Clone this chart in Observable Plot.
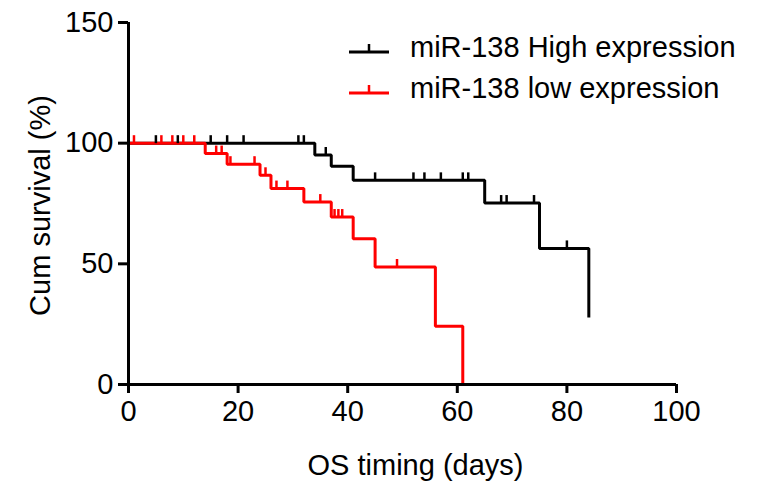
<!DOCTYPE html>
<html><head><meta charset="utf-8">
<script src="https://cdn.jsdelivr.net/npm/d3@7"></script>
<script src="https://cdn.jsdelivr.net/npm/@observablehq/plot@0.6"></script>
<style>
html,body{margin:0;padding:0;background:#fff;}
#wrap{position:relative;width:768px;height:497px;font-family:"Liberation Sans",Arial,Helvetica,sans-serif;}
#chart svg [aria-label$="tick"] path, #chart svg [aria-label$="tick"] line, #chart svg .tick line {stroke-width:3px;}
#legend{position:absolute;left:349px;top:27px;}
.row{display:flex;align-items:center;height:41px;font-size:29px;color:#000;line-height:41px;white-space:nowrap;}
.row svg{margin-right:21px;display:block;}
</style></head><body>
<div id="wrap"><div id="chart"></div><div id="legend"></div></div>
<script>
const seriesNames = ["miR-138 High expression", "miR-138 low expression"];
const seriesColors = ["#000000", "#ff0000"];
const highDays = [0, 34, 37, 41, 65, 75, 84];
const highSurv = [100, 95.1, 90.4, 84.6, 75.2, 56.4, 27.8];
const lowDays = [0, 14, 18, 24, 26, 32, 37, 41, 45, 56, 61];
const lowSurv = [100, 95.7, 91.3, 86.7, 81.2, 75.6, 69.4, 60.4, 48.7, 24.1, 0];
const highCensorDays = [5, 9, 15, 18, 21, 31, 32, 36, 45, 52, 54, 57, 61, 62, 68, 69, 74, 80];
const highCensorSurv = [100, 100, 100, 100, 100, 100, 100, 95.1, 84.6, 84.6, 84.6, 84.6, 84.6, 84.6, 75.2, 75.2, 75.2, 56.4];
const lowCensorDays = [1, 6, 8, 10, 12, 16, 17, 18.6, 23, 25, 27, 29, 35, 37.6, 38.3, 39, 49];
const lowCensorSurv = [100, 100, 100, 100, 100, 95.7, 95.7, 91.3, 91.3, 86.7, 81.2, 81.2, 75.6, 69.4, 69.4, 69.4, 48.7];
const xTicks = [0, 20, 40, 60, 80, 100];
const yTicks = [0, 50, 100, 150];
const xLabel = "OS timing (days)";
const yLabel = "Cum survival (%)";

const curves = [
  ...highDays.map((d, i) => ({group: seriesNames[0], day: d, surv: highSurv[i]})),
  ...lowDays.map((d, i) => ({group: seriesNames[1], day: d, surv: lowSurv[i]}))
];
const censors = [
  ...highCensorDays.map((d, i) => ({group: seriesNames[0], day: d, surv: highCensorSurv[i]})),
  ...lowCensorDays.map((d, i) => ({group: seriesNames[1], day: d, surv: lowCensorSurv[i]}))
];

const tickUp = {draw(ctx, size) { const h = Math.sqrt(size); ctx.moveTo(0, 0); ctx.lineTo(0, -h); }};

const chart = Plot.plot({
  width: 768, height: 497,
  marginLeft: 128, marginRight: 92, marginTop: 22, marginBottom: 113,
  style: {fontSize: "29px", fontFamily: "'Liberation Sans', Arial, Helvetica, sans-serif", color: "#000", background: "#fff"},
  x: {domain: [0, 100], ticks: xTicks, tickSize: 9, tickPadding: 7, label: null},
  y: {domain: [0, 150], ticks: yTicks, tickSize: 10, tickPadding: 5, label: null},
  color: {domain: seriesNames, range: seriesColors},
  marks: [
    Plot.line(curves, {x: "day", y: "surv", z: "group", stroke: "group", curve: "step-after", strokeWidth: 3, strokeLinejoin: "miter", strokeLinecap: "butt"}),
    Plot.dot(censors, {x: "day", y: "surv", stroke: "group", symbol: tickUp, r: 4.5, fill: "none", strokeWidth: 2.5}),
    Plot.ruleX([0], {strokeWidth: 3}),
    Plot.ruleY([0], {strokeWidth: 3}),
    Plot.text([xLabel], {frameAnchor: "bottom", textAnchor: "middle", lineAnchor: "middle", dx: 13, dy: 81, fontSize: 29, fill: "#000"}),
    Plot.text([yLabel], {frameAnchor: "left", textAnchor: "middle", lineAnchor: "middle", dx: -88, dy: 2, rotate: -90, fontSize: 29, fill: "#000"})
  ]
});
document.getElementById("chart").appendChild(chart);

const legend = document.getElementById("legend");
seriesNames.forEach((name, i) => {
  const row = document.createElement("div");
  row.className = "row";
  const c = seriesColors[i];
  row.innerHTML = `<svg width="40" height="20"><line x1="0" x2="40" y1="14" y2="14" stroke="${c}" stroke-width="3"/><line x1="20" x2="20" y1="6" y2="14" stroke="${c}" stroke-width="2.5"/></svg><span>${name}</span>`;
  legend.appendChild(row);
});
</script>
</body></html>
